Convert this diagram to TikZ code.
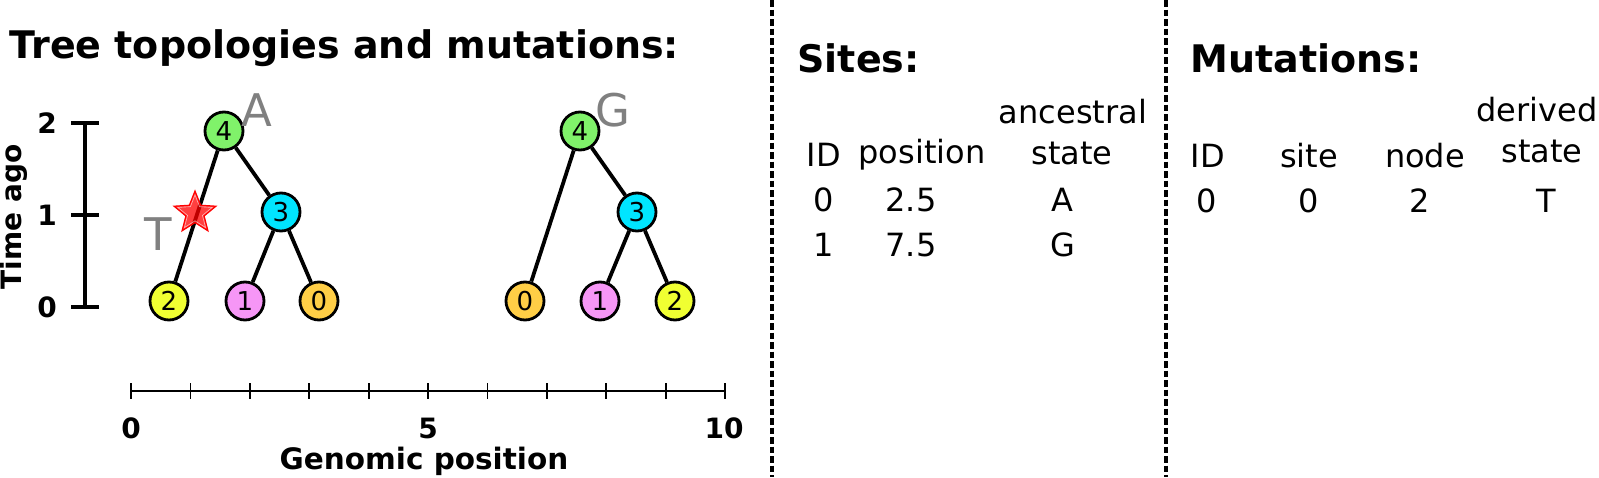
\documentclass[tikz,border=0pt]{standalone}
\usepackage{fontspec}
\setmainfont{DejaVu Sans}
\usepackage{xcolor}
\usetikzlibrary{shapes.geometric}

\definecolor{ncgreen}{RGB}{128,242,106}
\definecolor{nccyan}{RGB}{0,229,255}
\definecolor{ncyellow}{RGB}{240,255,50}
\definecolor{ncpink}{RGB}{246,150,246}
\definecolor{ncorange}{RGB}{255,206,70}

\tikzset{
	tnode/.style={circle, draw=black, line width=2.8pt, minimum size=38pt, inner sep=0pt, font=\fontsize{26}{30}\selectfont},
	branch/.style={line width=3.8pt},
	mutlab/.style={text=gray, font=\fontsize{45}{50}\selectfont},
	head/.style={font=\fontsize{38}{44}\selectfont\bfseries, anchor=west},
	cell/.style={font=\fontsize{32}{38}\selectfont},
	axlab/.style={font=\fontsize{28}{33}\selectfont\bfseries},
	sep/.style={line width=3.2pt, dash pattern=on 6.5pt off 3pt}
}

\begin{document}
\begin{tikzpicture}[x=1pt,y=-1pt]
			\useasboundingbox (0,0) rectangle (1599,477);
			% left panel: trees
			\node[head] (title) at (6,48) {Tree topologies and mutations:};
			\coordinate (tt) at (85,123);
			\coordinate (tb) at (85,307);
			\draw[line width=3.2pt] (tt) -- (tb);
			\foreach \t/\y in {2/123,1/215,0/307} {
				\draw[line width=3.2pt] (71,\y) -- (99,\y);
				\node[axlab] (tl\t) at (47,\y) {\t};
			}
			\node[axlab, rotate=90] (tago) at (14,217) {Time ago};

			% first tree
			\node[tnode, fill=ncgreen] (a4) at (224,131) {4};
			\node[tnode, fill=nccyan] (a3) at (281,212) {3};
			\node[tnode, fill=ncyellow] (a2) at (169,301) {2};
			\node[tnode, fill=ncpink] (a1) at (245,301) {1};
			\node[tnode, fill=ncorange] (a0) at (319,301) {0};
			\draw[branch] (a4) -- (a2);
			\draw[branch] (a4) -- (a3);
			\draw[branch] (a3) -- (a1);
			\draw[branch] (a3) -- (a0);
			\node[star, star points=5, star point ratio=2.3, minimum size=44pt, inner sep=0pt, fill=red, fill opacity=0.75, draw=red, line width=1.2pt] (mstar) at (195,213) {};
			\node[star, star points=5, star point ratio=2.3, minimum size=36pt, inner sep=0pt, draw=white, draw opacity=0.6, line width=0.6pt] (mstari) at (195,213) {};
			\node[mutlab] (ma) at (257,110) {A};
			\node[mutlab] (mt) at (158,234) {T};

			% second tree
			\node[tnode, fill=ncgreen] (b4) at (580,131) {4};
			\node[tnode, fill=nccyan] (b3) at (637,212) {3};
			\node[tnode, fill=ncorange] (b0) at (525,301) {0};
			\node[tnode, fill=ncpink] (b1) at (600,301) {1};
			\node[tnode, fill=ncyellow] (b2) at (675,301) {2};
			\draw[branch] (b4) -- (b0);
			\draw[branch] (b4) -- (b3);
			\draw[branch] (b3) -- (b1);
			\draw[branch] (b3) -- (b2);
			\node[mutlab] (mg) at (613,110) {G};

			% genome axis
			\coordinate (g0) at (131,391);
			\coordinate (g10) at (725,391);
			\draw[line width=2.4pt] (g0) -- (g10);
			\foreach \i in {0,...,10}
				\draw[line width=1.8pt] (131+59.4*\i,383) -- (131+59.4*\i,399);
			\node[axlab] (p0) at (131,428) {0};
			\node[axlab] (p5) at (428,428) {5};
			\node[axlab] (p10) at (724,428) {10};
			\node[axlab, font=\fontsize{29.5}{34}\selectfont\bfseries] (gpos) at (424,461) {Genomic position};

			% separators
			\draw[sep] (772,0) -- (772,477);
			\draw[sep] (1166,0) -- (1166,477);

			% sites table
			\node[head] (sites) at (794,58) {Sites:};
			\node[cell] (s1) at (1073,112) {ancestral};
			\node[cell] (s2) at (824,155) {ID};
			\node[cell] (s3) at (922,155) {position};
			\node[cell] (s4) at (1072,153) {state};
			\node[cell] (s5) at (824,200) {0};
			\node[cell] (s6) at (911,200) {2.5};
			\node[cell] (s7) at (1062,200) {A};
			\node[cell] (s8) at (824,245) {1};
			\node[cell] (s9) at (911,245) {7.5};
			\node[cell] (s10) at (1063,245) {G};

			% mutations table
			\node[head] (muts) at (1187,58) {Mutations:};
			\node[cell] (m1) at (1537,110) {derived};
			\node[cell] (m2) at (1208,156) {ID};
			\node[cell] (m3) at (1309,156) {site};
			\node[cell] (m4) at (1425,156) {node};
			\node[cell] (m5) at (1542,151) {state};
			\node[cell] (m6) at (1207,201) {0};
			\node[cell] (m7) at (1309,201) {0};
			\node[cell] (m8) at (1420,201) {2};
			\node[cell] (m9) at (1546,201) {T};
		\end{tikzpicture}
\end{document}
